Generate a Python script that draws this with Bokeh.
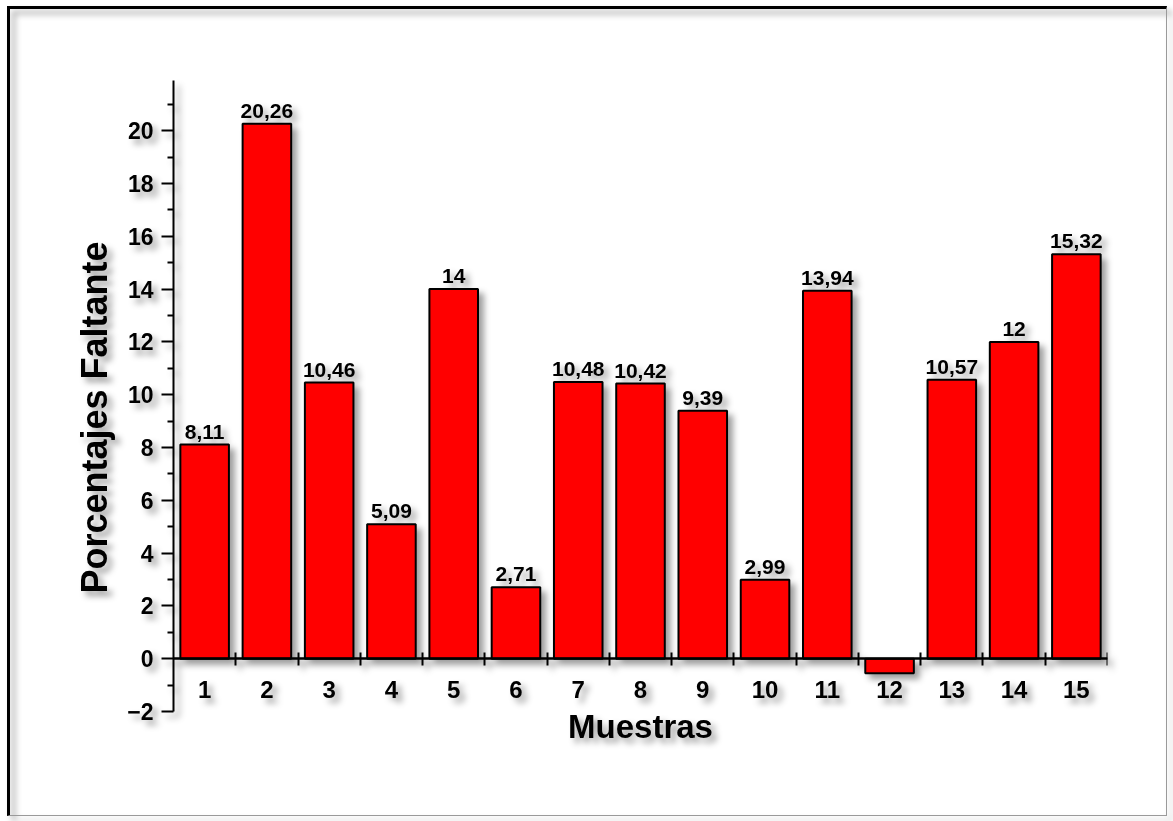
from bokeh.plotting import figure
from bokeh.models import ColumnDataSource, Range1d, FixedTicker, LinearAxis, Title
from bokeh.core.properties import value
from bokeh.embed import file_html
from bokeh.resources import INLINE

# Missing percentage per sample
samples = list(range(1, 16))
values = [8.11, 20.26, 10.46, 5.09, 14, 2.71, 10.48, 10.42, 9.39, 2.99,
          13.94, -0.55, 10.57, 12, 15.32]
show_label = [True] * 11 + [False] + [True] * 3

y_ticks = [-2, 0, 2, 4, 6, 8, 10, 12, 14, 16, 18, 20]
y_minor = [-1, 1, 3, 5, 7, 9, 11, 13, 15, 17, 19, 21]


def fmt(v):
    s = f"{v:.2f}".rstrip("0").rstrip(".")
    return s.replace(".", ",")


labels = [fmt(v) if keep else "" for v, keep in zip(values, show_label)]

src = ColumnDataSource(dict(x=samples, top=values, label=labels,
                            ly=[max(v, 0) for v in values]))

FONT = "Liberation Sans"

p = figure(width=1160, height=810, output_backend="svg", toolbar_location=None,
           x_range=Range1d(0.5, 15.5), y_range=Range1d(-2, 21.9),
           min_border_left=163, min_border_right=63,
           min_border_top=71, min_border_bottom=108)
p.margin = (6, 0, 0, 7)
p.styles = {
    "border-left": "3px solid black",
    "border-top": "3px solid black",
    "border-right": "1px solid #9a9a9a",
    "border-bottom": "1px solid #9a9a9a",
    "filter": "drop-shadow(5px 5px 3px rgba(0,0,0,0.38))",
}
p.background_fill_color = None
p.border_fill_color = None
p.outline_line_color = None
p.grid.visible = False
p.xaxis.visible = False

p.vbar(x="x", top="top", bottom=0, width=0.78, source=src,
       fill_color="#ff0000", line_color="black", line_width=2)

p.text(x="x", y="ly", text="label", source=src, text_align="center",
       text_baseline="bottom", y_offset=-6, text_font=value(FONT),
       text_font_style="bold", text_font_size="21px", text_color="black")

# y axis
ya = p.yaxis[0]
ya.ticker = FixedTicker(ticks=y_ticks, minor_ticks=y_minor)
ya.axis_line_width = 2
ya.major_tick_line_width = 2
ya.minor_tick_line_width = 2
ya.major_tick_in = 0
ya.major_tick_out = 12
ya.minor_tick_in = 0
ya.minor_tick_out = 6
ya.major_label_text_font = FONT
ya.major_label_text_font_style = "bold"
ya.major_label_text_font_size = "23px"
ya.major_label_text_color = "black"
ya.major_label_standoff = 8

# y axis title, starting a little above the bottom of the axis
ytitle = Title(text="Porcentajes Faltante", align="left", offset=118,
               text_font=FONT, text_font_style="bold", text_font_size="36px",
               text_color="black", standoff=20)
p.add_layout(ytitle, "left")

# title axis under the frame
xt = LinearAxis(ticker=FixedTicker(ticks=[], minor_ticks=[]))
xt.axis_line_color = None
xt.major_tick_line_color = None
xt.minor_tick_line_color = None
xt.major_label_text_font_size = "0px"
xt.major_label_standoff = 0
xt.axis_label = "Muestras"
xt.axis_label_text_font = FONT
xt.axis_label_text_font_style = "bold"
xt.axis_label_text_font_size = "33px"
xt.axis_label_text_color = "black"
xt.axis_label_standoff = -4
p.add_layout(xt, "below")

# x axis along zero: category boundary ticks
xb = LinearAxis(fixed_location=0,
                ticker=FixedTicker(ticks=[i + 0.5 for i in samples], minor_ticks=[]))
xb.axis_line_width = 2
xb.major_tick_line_width = 2
xb.major_tick_in = 6
xb.major_tick_out = 7
xb.major_label_text_color = None
p.add_layout(xb, "below")

# x axis along zero: sample numbers
xl = LinearAxis(fixed_location=0,
                ticker=FixedTicker(ticks=samples, minor_ticks=[]))
xl.axis_line_width = 2
xl.major_tick_line_color = None
xl.major_label_text_font = FONT
xl.major_label_text_font_style = "bold"
xl.major_label_text_font_size = "24px"
xl.major_label_text_color = "black"
xl.major_label_standoff = 16
p.add_layout(xl, "below")

open("out.html", "w").write(file_html(p, INLINE))
